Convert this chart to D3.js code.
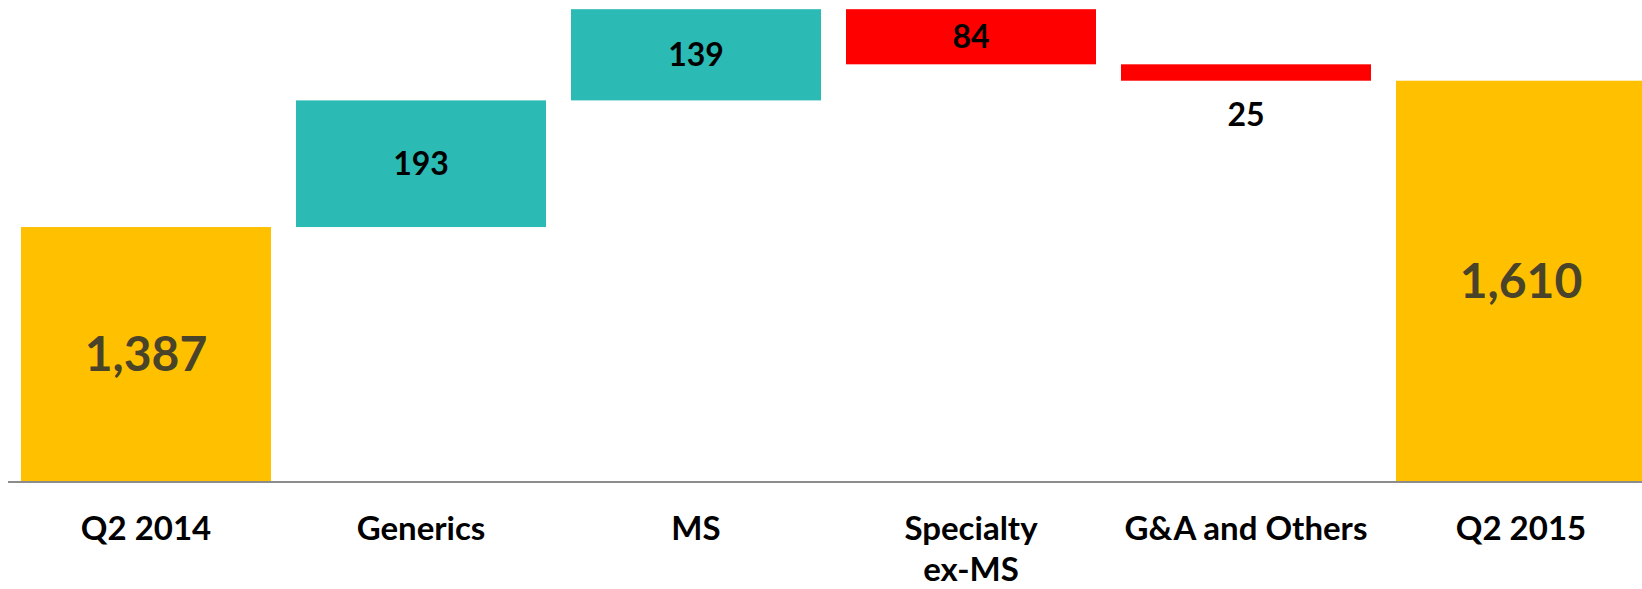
<!DOCTYPE html>
<html>
<head>
<meta charset="utf-8">
<script src="https://cdn.jsdelivr.net/npm/d3@7"></script>
<style>
  html, body { margin: 0; padding: 0; background: #ffffff; }
  svg { display: block; font-family: Lato, "Open Sans", sans-serif; font-weight: 700; }
</style>
</head>
<body>
<svg id="chart" width="1642" height="589"></svg>
<script>
// Operating bridge, Q2 2014 -> Q2 2015
const categories = ["Q2 2014", "Generics", "MS", "Specialty\nex-MS", "G&A and Others", "Q2 2015"];
const values = [1387, 193, 139, -84, -25, 1610];
const kinds = ["total", "delta", "delta", "delta", "delta", "total"];
const axisMin = 1000;
const axisMax = 1733;

const colors = { total: "#FFC000", up: "#2BBBB4", down: "#FF0000" };

const svg = d3.select("#chart");
const width = 1642, height = 589;
const baseY = 481;

const x = d3.scaleBand()
  .domain(categories)
  .range([8.5, 1658.5])
  .paddingInner(0.0909)
  .paddingOuter(0.0455);

const y = d3.scaleLinear()
  .domain([axisMin, axisMax])
  .range([baseY, 0]);

// running cumulative to place each floating step
let running = 0;
const bars = categories.map((c, i) => {
  const v = values[i];
  let lo, hi, color;
  if (kinds[i] === "total") {
    lo = axisMin; hi = v; running = v; color = colors.total;
  } else {
    const start = running;
    running += v;
    lo = Math.min(start, running); hi = Math.max(start, running);
    color = v >= 0 ? colors.up : colors.down;
  }
  return { cat: c, value: v, kind: kinds[i], lo, hi, color };
});

const fmt = d3.format(",");

svg.append("g")
  .selectAll("rect")
  .data(bars)
  .join("rect")
  .attr("x", d => x(d.cat))
  .attr("width", x.bandwidth())
  .attr("y", d => y(d.hi))
  .attr("height", d => y(d.lo) - y(d.hi))
  .attr("fill", d => d.color);

// value labels: centred in the bar, or just below a thin bar
svg.append("g")
  .selectAll("text")
  .data(bars)
  .join("text")
  .attr("text-anchor", "middle")
  .attr("x", d => x(d.cat) + x.bandwidth() / 2)
  .attr("y", d => {
    const top = y(d.hi), bot = y(d.lo);
    if (bot - top < 30) return bot + 33.5;
    return (top + bot) / 2;
  })
  .attr("dy", "0.36em")
  .attr("font-size", d => d.kind === "total" ? 48 : 32)
  .attr("fill", d => d.kind === "total" ? "#494429" : "#000000")
  .text(d => fmt(Math.abs(d.value)));

// baseline axis with category labels
const xAxis = d3.axisBottom(x).tickSize(0).tickPadding(0);
const ax = svg.append("g")
  .attr("transform", `translate(0,${baseY + 1})`)
  .call(xAxis);
ax.select(".domain")
  .attr("d", `M8,0H${width}`)
  .attr("stroke", "#8C8C8C")
  .attr("stroke-width", 2);
ax.selectAll(".tick text").remove();
ax.selectAll(".tick").each(function(d) {
  const t = d3.select(this).append("text")
    .attr("text-anchor", "middle")
    .attr("fill", "#000000")
    .attr("font-size", 33)
    .attr("font-family", "Lato, 'Open Sans', sans-serif")
    .attr("font-weight", 700);
  d.split("\n").forEach((line, k) => {
    t.append("tspan")
      .attr("x", 0)
      .attr("y", 58 + k * 41)
      .text(line);
  });
});
</script>
</body>
</html>
